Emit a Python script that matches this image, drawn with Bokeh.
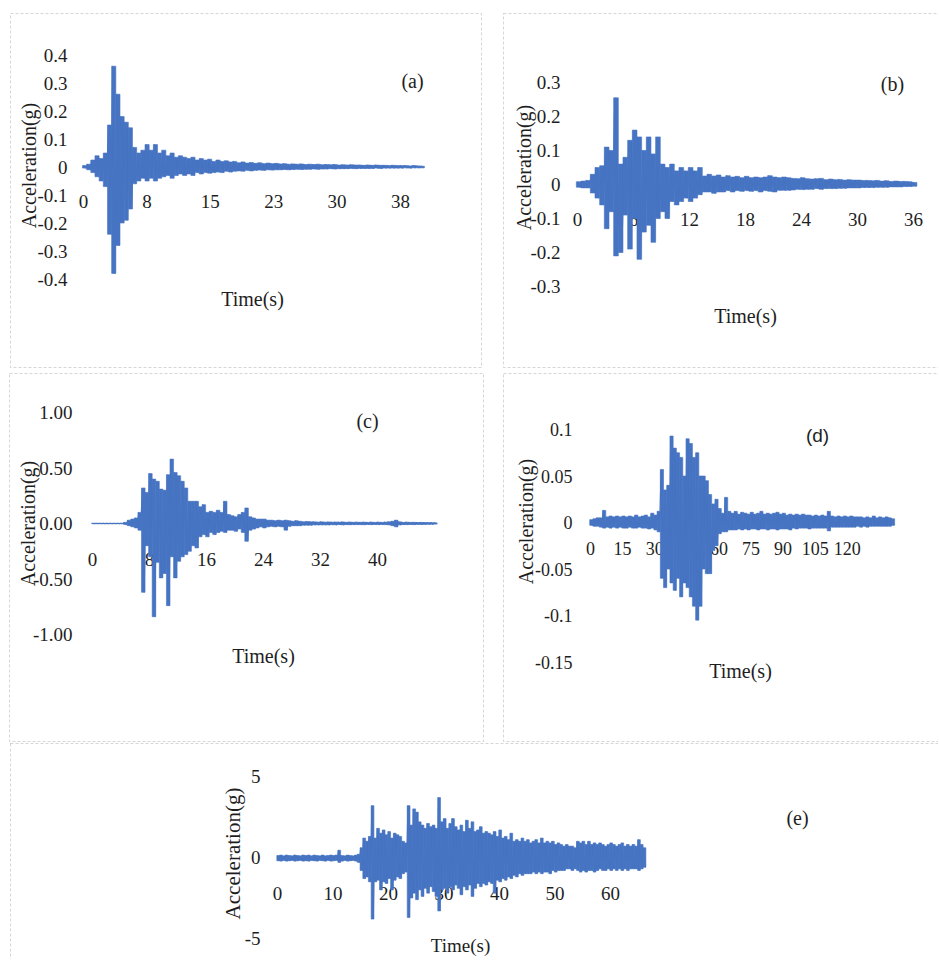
import numpy as np
from bokeh.plotting import figure
from bokeh.models import Range1d, LinearAxis, FixedTicker, Label, BoxAnnotation
from bokeh.layouts import column, row
from bokeh.embed import file_html
from bokeh.resources import INLINE

# ---------------- data (envelope peaks read from the records) ----------------
# (a) step 0.5 s
a_step = 0.5
a_up = [0.005, 0.01, 0.025, 0.04, 0.03, 0.05, 0.15, 0.36, 0.26, 0.18,
        0.16, 0.14, 0.07, 0.05, 0.06, 0.08, 0.06, 0.08, 0.05, 0.06,
        0.04, 0.05, 0.035, 0.04, 0.035, 0.03, 0.035, 0.025, 0.03, 0.025,
        0.028, 0.02, 0.025, 0.02, 0.022, 0.018, 0.02, 0.015, 0.018, 0.014,
        0.016, 0.013, 0.015, 0.012, 0.014, 0.012, 0.013, 0.011, 0.012, 0.01,
        0.011, 0.01, 0.011, 0.009, 0.01, 0.009, 0.01, 0.008, 0.009, 0.008,
        0.009, 0.007, 0.008, 0.007, 0.008, 0.007, 0.007, 0.006, 0.007, 0.006,
        0.007, 0.006, 0.006, 0.005, 0.006, 0.005, 0.005, 0.005, 0.004, 0.005,
        0.004, 0.003]
a_lo = [-0.004, -0.01, -0.02, -0.035, -0.05, -0.07, -0.24, -0.38, -0.28, -0.2,
        -0.19, -0.15, -0.06, -0.05, -0.04, -0.05, -0.04, -0.05, -0.04, -0.035,
        -0.03, -0.04, -0.03, -0.025, -0.03, -0.025, -0.03, -0.02, -0.025, -0.02,
        -0.022, -0.02, -0.018, -0.02, -0.015, -0.018, -0.015, -0.014, -0.015, -0.012,
        -0.014, -0.012, -0.011, -0.012, -0.01, -0.011, -0.01, -0.01, -0.009, -0.01,
        -0.009, -0.008, -0.009, -0.008, -0.008, -0.007, -0.008, -0.007, -0.007, -0.006,
        -0.007, -0.006, -0.006, -0.006, -0.005, -0.006, -0.005, -0.005, -0.005, -0.005,
        -0.004, -0.005, -0.004, -0.004, -0.004, -0.004, -0.004, -0.003, -0.004, -0.003,
        -0.003, -0.003]
a_xticks = [0, 7.6, 15.2, 22.8, 30.4, 38.0]
a_xlabels = ["0", "8", "15", "23", "30", "38"]
a_yticks = [-0.4, -0.3, -0.2, -0.1, 0, 0.1, 0.2, 0.3, 0.4]
a_ylabels = ["-0.4", "-0.3", "-0.2", "-0.1", "0", "0.1", "0.2", "0.3", "0.4"]

# (b) step 0.5 s
b_step = 0.5
b_up = [0.008, 0.01, 0.012, 0.03, 0.05, 0.055, 0.11, 0.1, 0.255, 0.06,
        0.08, 0.13, 0.16, 0.14, 0.1, 0.14, 0.09, 0.14, 0.06, 0.05,
        0.06, 0.04, 0.05, 0.04, 0.05, 0.04, 0.05, 0.025, 0.03, 0.025,
        0.028, 0.022, 0.026, 0.022, 0.024, 0.02, 0.024, 0.02, 0.022, 0.02,
        0.022, 0.026, 0.022, 0.02, 0.022, 0.02, 0.018, 0.017, 0.02, 0.017,
        0.016, 0.017, 0.018, 0.014, 0.016, 0.014, 0.015, 0.013, 0.014, 0.013,
        0.013, 0.012, 0.012, 0.011, 0.012, 0.01, 0.011, 0.009, 0.01, 0.009,
        0.009, 0.008, 0.006]
b_lo = [-0.008, -0.01, -0.01, -0.025, -0.04, -0.06, -0.13, -0.08, -0.21, -0.2,
        -0.09, -0.19, -0.1, -0.22, -0.14, -0.12, -0.17, -0.1, -0.08, -0.1,
        -0.05, -0.06, -0.05, -0.04, -0.05, -0.04, -0.03, -0.022, -0.022, -0.026,
        -0.022, -0.022, -0.018, -0.022, -0.018, -0.02, -0.018, -0.02, -0.018, -0.022,
        -0.018, -0.02, -0.022, -0.017, -0.017, -0.017, -0.016, -0.014, -0.015, -0.014,
        -0.014, -0.012, -0.014, -0.012, -0.012, -0.012, -0.011, -0.011, -0.01, -0.01,
        -0.01, -0.009, -0.009, -0.009, -0.008, -0.008, -0.008, -0.007, -0.007, -0.007,
        -0.006, -0.006, -0.005]
b_xticks = [0, 6, 12, 18, 24, 30, 36]
b_xlabels = ["0", "6", "12", "18", "24", "30", "36"]
b_yticks = [-0.3, -0.2, -0.1, 0, 0.1, 0.2, 0.3]
b_ylabels = ["-0.3", "-0.2", "-0.1", "0", "0.1", "0.2", "0.3"]

# (c) step 0.5 s
c_step = 0.5
c_up = [0.002, 0.002, 0.002, 0.002, 0.002, 0.002, 0.002, 0.002, 0.002, 0.01,
        0.03, 0.04, 0.05, 0.1, 0.32, 0.28, 0.45, 0.4, 0.38, 0.31,
        0.3, 0.44, 0.58, 0.46, 0.43, 0.38, 0.32, 0.2, 0.2, 0.2,
        0.15, 0.17, 0.1, 0.11, 0.1, 0.12, 0.1, 0.2, 0.08, 0.07,
        0.06, 0.08, 0.1, 0.14, 0.06, 0.05, 0.04, 0.04, 0.04, 0.03,
        0.03, 0.025, 0.03, 0.025, 0.03, 0.025, 0.02, 0.025, 0.02, 0.015,
        0.018, 0.015, 0.015, 0.012, 0.015, 0.012, 0.014, 0.012, 0.013, 0.012,
        0.014, 0.011, 0.013, 0.011, 0.012, 0.011, 0.012, 0.01, 0.012, 0.01,
        0.012, 0.01, 0.012, 0.015, 0.02, 0.03, 0.015, 0.01, 0.012, 0.01,
        0.011, 0.009, 0.01, 0.009, 0.008, 0.008, 0.006]
c_lo = [-0.002, -0.002, -0.002, -0.002, -0.002, -0.002, -0.002, -0.002, -0.002, -0.01,
        -0.02, -0.03, -0.04, -0.06, -0.62, -0.2, -0.3, -0.84, -0.35, -0.49,
        -0.45, -0.74, -0.3, -0.49, -0.34, -0.3, -0.28, -0.25, -0.2, -0.22,
        -0.12, -0.1, -0.12, -0.08, -0.1, -0.08, -0.07, -0.08, -0.06, -0.06,
        -0.07, -0.05, -0.08, -0.16, -0.06, -0.05, -0.04, -0.03, -0.04, -0.03,
        -0.025, -0.03, -0.025, -0.03, -0.06, -0.025, -0.02, -0.02, -0.02, -0.015,
        -0.015, -0.015, -0.012, -0.012, -0.012, -0.012, -0.012, -0.011, -0.012, -0.01,
        -0.012, -0.01, -0.011, -0.01, -0.01, -0.01, -0.011, -0.009, -0.01, -0.009,
        -0.01, -0.009, -0.01, -0.012, -0.02, -0.03, -0.012, -0.01, -0.01, -0.009,
        -0.01, -0.008, -0.009, -0.008, -0.007, -0.007, -0.005]
c_xticks = [0, 8, 16, 24, 32, 40]
c_xlabels = ["0", "8", "16", "24", "32", "40"]
c_yticks = [-1.0, -0.5, 0.0, 0.5, 1.0]
c_ylabels = ["-1.00", "-0.50", "0.00", "0.50", "1.00"]

# (d) step 1.5 s
d_step = 1.5
d_up = [0.003, 0.004, 0.005, 0.005, 0.013, 0.006, 0.007, 0.006, 0.007, 0.006,
        0.007, 0.006, 0.007, 0.006, 0.008, 0.006, 0.007, 0.008, 0.006, 0.01,
        0.008, 0.012, 0.057, 0.035, 0.04, 0.093, 0.08, 0.075, 0.07, 0.05,
        0.09, 0.085, 0.07, 0.075, 0.05, 0.05, 0.045, 0.03, 0.02, 0.025,
        0.015, 0.01, 0.027, 0.012, 0.01, 0.012, 0.009, 0.011, 0.01, 0.009,
        0.011, 0.009, 0.01, 0.012, 0.009, 0.01, 0.009, 0.01, 0.011, 0.009,
        0.01, 0.008, 0.009, 0.008, 0.009, 0.008, 0.009, 0.008, 0.008, 0.007,
        0.008, 0.007, 0.008, 0.007, 0.012, 0.007, 0.006, 0.007, 0.006, 0.007,
        0.006, 0.007, 0.006, 0.006, 0.006, 0.005, 0.006, 0.005, 0.007, 0.005,
        0.006, 0.005, 0.006, 0.005, 0.004]
d_lo = [-0.003, -0.004, -0.004, -0.005, -0.006, -0.005, -0.006, -0.005, -0.006, -0.005,
        -0.006, -0.006, -0.005, -0.006, -0.006, -0.005, -0.006, -0.006, -0.007, -0.006,
        -0.008, -0.01, -0.06, -0.07, -0.05, -0.065, -0.073, -0.06, -0.08, -0.065,
        -0.07, -0.08, -0.09, -0.105, -0.09, -0.05, -0.055, -0.055, -0.03, -0.025,
        -0.012, -0.01, -0.01, -0.008, -0.008, -0.008, -0.007, -0.008, -0.007, -0.008,
        -0.007, -0.007, -0.008, -0.007, -0.007, -0.008, -0.007, -0.007, -0.008, -0.007,
        -0.007, -0.007, -0.008, -0.006, -0.007, -0.006, -0.006, -0.006, -0.007, -0.006,
        -0.006, -0.006, -0.006, -0.006, -0.009, -0.005, -0.005, -0.005, -0.005, -0.005,
        -0.005, -0.005, -0.005, -0.004, -0.005, -0.004, -0.005, -0.004, -0.004, -0.004,
        -0.004, -0.004, -0.004, -0.004, -0.003]
d_xticks = [0, 15, 30, 45, 60, 75, 90, 105, 120]
d_xlabels = ["0", "15", "30", "45", "60", "75", "90", "105", "120"]
d_yticks = [-0.15, -0.1, -0.05, 0, 0.05, 0.1]
d_ylabels = ["-0.15", "-0.1", "-0.05", "0", "0.05", "0.1"]

# (e) step 0.5 s
e_step = 0.5
e_up = [0.12, 0.15, 0.1, 0.15, 0.12, 0.1, 0.15, 0.12, 0.1, 0.15,
        0.12, 0.15, 0.1, 0.15, 0.12, 0.1, 0.15, 0.1, 0.12, 0.15,
        0.12, 0.15, 0.45, 0.12, 0.1, 0.15, 0.12, 0.1, 0.15, 0.2,
        0.6, 1.2, 1.0, 1.3, 3.2, 1.2, 1.8, 1.5, 1.7, 1.4,
        1.6, 1.2, 1.5, 1.4, 1.3, 1.0, 0.9, 3.2, 2.0, 3.0,
        2.8, 2.2, 2.0, 1.8, 2.1, 1.9, 2.0, 1.8, 3.7, 2.2,
        2.4, 1.8, 2.1, 2.4, 1.9, 1.7, 2.0, 1.6, 2.3, 1.8,
        2.2, 1.6, 1.7, 1.9, 1.5, 1.6, 1.5, 1.4, 1.6, 1.3,
        1.7, 1.2, 1.3, 1.1, 1.5, 1.0, 1.1, 1.0, 1.2, 1.0,
        1.1, 0.9, 1.0, 1.1, 0.9, 1.2, 0.9, 1.0, 0.9, 1.0,
        0.8, 0.9, 0.8, 0.7, 0.8, 0.7, 0.7, 0.6, 1.0, 0.9,
        1.0, 0.8, 1.0, 0.8, 0.9, 0.8, 0.9, 0.8, 0.7, 0.8,
        0.9, 0.8, 0.7, 0.8, 0.9, 0.7, 0.8, 0.7, 0.8, 0.7,
        1.1, 0.8, 0.6]
e_lo = [-0.2, -0.22, -0.18, -0.22, -0.2, -0.18, -0.22, -0.2, -0.18, -0.22,
        -0.2, -0.22, -0.18, -0.2, -0.22, -0.18, -0.2, -0.22, -0.18, -0.22,
        -0.2, -0.18, -0.3, -0.22, -0.18, -0.22, -0.2, -0.18, -0.22, -0.3,
        -0.8, -1.3, -1.2, -1.5, -3.8, -1.5, -1.4, -2.0, -1.5, -1.6,
        -1.3, -2.0, -1.4, -1.2, -1.3, -1.0, -0.9, -3.7, -2.5, -2.2,
        -2.6, -2.0, -2.4, -1.9, -2.2, -1.8, -2.1, -2.4, -3.3, -2.0,
        -1.9, -2.2, -1.8, -2.0, -1.7, -1.9, -2.3, -1.8, -2.0, -1.7,
        -2.4, -1.9, -1.6, -1.8, -1.6, -1.7, -1.5, -1.6, -2.2, -1.4,
        -1.5, -1.3, -1.4, -1.2, -1.3, -1.1, -1.2, -1.0, -1.1, -1.0,
        -1.0, -1.0, -0.9, -1.0, -0.9, -1.0, -0.9, -0.9, -1.0, -0.8,
        -0.9, -0.8, -0.8, -0.8, -0.7, -0.7, -0.8, -0.7, -0.8, -0.9,
        -0.8, -0.9, -0.8, -0.8, -0.9, -0.8, -0.7, -0.8, -0.8, -0.7,
        -0.8, -0.7, -0.8, -0.7, -0.8, -0.7, -0.8, -0.7, -0.7, -0.7,
        -0.8, -0.7, -0.6]
e_xticks = [0, 10, 20, 30, 40, 50, 60]
e_xlabels = ["0", "10", "20", "30", "40", "50", "60"]
e_yticks = [-5, 0, 5]
e_ylabels = ["-5", "0", "5"]

# ---------------- styling ----------------
BLUE = "#4674C2"
TXT = "#1e1e1e"
SERIF = "Liberation Serif"
SANS = "Liberation Sans"
BORDER = "#777777"


def zigzag(upper, lower, step):
    t, y = [], []
    for i, (u, l) in enumerate(zip(upper, lower)):
        t.append(i * step)
        y.append(u)
        t.append(i * step + step / 2.0)
        y.append(l)
    return t, y


def make_panel(w, h, x0, sx, y0, sy, up, lo, step,
               xticks, xlabels, yticks, ylabels,
               yl_right, xl_standoff, tick_fs, box, texts):
    xr = Range1d(-x0 / sx, (w - x0) / sx)
    yr = Range1d(-(h - y0) / sy, y0 / sy)
    p = figure(width=w, height=h, x_range=xr, y_range=yr,
               x_axis_type=None, y_axis_type=None,
               output_backend="svg", toolbar_location=None, min_border=0)
    p.outline_line_color = None
    p.background_fill_color = "white"
    p.border_fill_color = "white"

    def fx(px):
        return (px - x0) / sx

    def fy(py):
        return (y0 - py) / sy

    # panel border (dashed)
    l, t, r, b = box
    p.add_layout(BoxAnnotation(left=fx(l), right=fx(r), top=fy(t), bottom=fy(b),
                               fill_color=None, line_color=BORDER, line_width=1,
                               line_dash="3 2", level="underlay"))

    n = min(len(up), len(lo))
    tmid = [i * step + step / 4.0 for i in range(n)]
    p.vbar(x=tmid, top=up[:n], bottom=lo[:n], width=step,
           fill_color=BLUE, line_color=BLUE, line_width=0.6)
    tt, yy = zigzag(up, lo, step)
    p.line(tt, yy, line_color=BLUE, line_width=1.2)

    xa = LinearAxis(fixed_location=0, ticker=FixedTicker(ticks=xticks),
                    major_label_overrides=dict(zip(xticks, xlabels)))
    ya = LinearAxis(fixed_location=fx(yl_right + 4), ticker=FixedTicker(ticks=yticks),
                    major_label_overrides=dict(zip(yticks, ylabels)))
    for ax in (xa, ya):
        ax.axis_line_color = None
        ax.major_tick_line_color = None
        ax.minor_tick_line_color = None
        ax.major_tick_out = 0
        ax.major_tick_in = 0
        ax.minor_tick_out = 0
        ax.major_label_text_font = SERIF
        ax.major_label_text_font_size = f"{tick_fs}px"
        ax.major_label_text_color = TXT
        ax.level = "underlay"
    xa.major_label_standoff = xl_standoff
    ya.major_label_standoff = 4
    p.add_layout(xa, "below")
    p.add_layout(ya, "left")

    for (txt, px, py, fs, font, ang) in texts:
        p.add_layout(Label(x=fx(px), y=fy(py), text=txt, text_align="center",
                           text_baseline="middle", text_font=font,
                           text_font_size=f"{fs}px", text_color=TXT,
                           angle=ang, angle_units="deg"))
    return p


pa = make_panel(492, 370, 83, 8.34, 166.5, 280, a_up, a_lo, a_step,
                a_xticks, a_xlabels, a_yticks, a_ylabels,
                yl_right=67, xl_standoff=28, tick_fs=19,
                box=(10, 13, 481, 367),
                texts=[("(a)", 412, 80, 20, SERIF, 0),
                       ("Time(s)", 252, 298, 20, SERIF, 0),
                       ("Acceleration(g)", 28, 165, 20, SERIF, 90)])

pb = make_panel(446, 370, 85, 9.33, 184, 340, b_up, b_lo, b_step,
                b_xticks, b_xlabels, b_yticks, b_ylabels,
                yl_right=68, xl_standoff=28, tick_fs=19,
                box=(11, 13, 480, 367),
                texts=[("(b)", 400, 83, 20, SERIF, 0),
                       ("Time(s)", 253, 315, 20, SERIF, 0),
                       ("Acceleration(g)", 31, 167, 20, SERIF, 90)])

pc = make_panel(492, 372, 92, 7.125, 153, 111, c_up, c_lo, c_step,
                c_xticks, c_xlabels, c_yticks, c_ylabels,
                yl_right=72, xl_standoff=29, tick_fs=19,
                box=(9, 3, 483, 371),
                texts=[("(c)", 367, 50, 20, SERIF, 0),
                       ("Time(s)", 263, 285, 20, SERIF, 0),
                       ("Acceleration(g)", 27, 153, 20, SERIF, 90)])

pd_ = make_panel(446, 372, 98, 2.14, 152, 930, d_up, d_lo, d_step,
                 d_xticks, d_xlabels, d_yticks, d_ylabels,
                 yl_right=80, xl_standoff=19, tick_fs=18,
                 box=(11, 3, 480, 371),
                 texts=[("(d)", 325, 65, 19, SANS, 0),
                        ("Time(s)", 248, 300, 20, SERIF, 0),
                        ("Acceleration(g)", 33, 151, 20, SERIF, 90)])

pe = make_panel(938, 217, 277, 5.55, 115, 16.2, e_up, e_lo, e_step,
                e_xticks, e_xlabels, e_yticks, e_ylabels,
                yl_right=260, xl_standoff=29, tick_fs=19,
                box=(10, 1, 980, 260),
                texts=[("(e)", 797, 75, 20, SERIF, 0),
                       ("Time(s)", 460, 203, 19, SERIF, 0),
                       ("Acceleration(g)", 232, 111, 21, SERIF, 90)])

layout = column(row(pa, pb), row(pc, pd_), pe)
open("out.html", "w").write(file_html(layout, INLINE))
